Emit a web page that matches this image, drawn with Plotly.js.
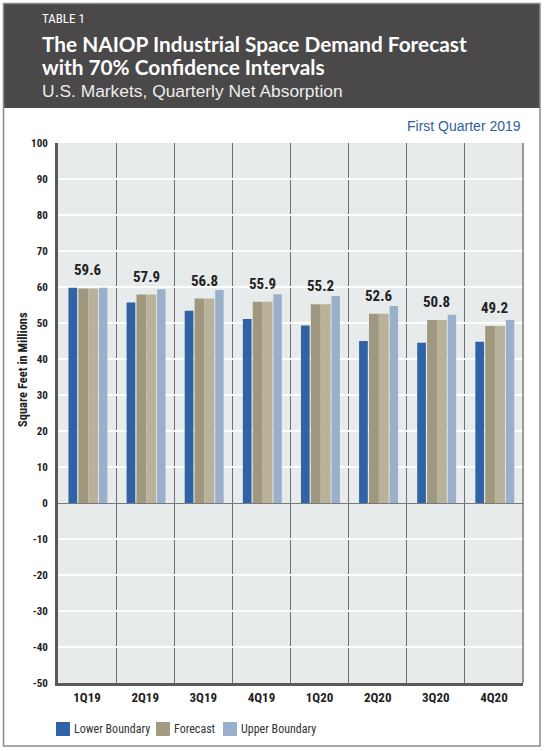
<!DOCTYPE html>
<html>
<head>
<meta charset="utf-8">
<script src="https://cdn.plot.ly/plotly-3.0.1.min.js"></script>
<style>
  html, body { margin: 0; padding: 0; background: #ffffff; }
  #chart { width: 545px; height: 751px; }
</style>
</head>
<body>
<div id="chart"></div>
<script>
// ---- data ----
const quarters = ['1Q19', '2Q19', '3Q19', '4Q19', '1Q20', '2Q20', '3Q20', '4Q20'];
const lowerBoundary = [59.8, 55.7, 53.4, 51.1, 49.3, 45.0, 44.5, 44.8];
const forecast = [59.6, 57.9, 56.8, 55.9, 55.2, 52.6, 50.8, 49.2];
const upperBoundary = [59.8, 59.4, 59.2, 58.0, 57.5, 54.7, 52.3, 50.8];
const seriesNames = ['Lower Boundary', 'Forecast', 'Upper Boundary'];
const yTicks = [-50, -40, -30, -20, -10, 0, 10, 20, 30, 40, 50, 60, 70, 80, 90, 100];
const yTickText = yTicks.map(v => String(v));

// ---- style ----
const W = 545, H = 751;
const M = { l: 58, r: 22, t: 143, b: 68 };
const PW = W - M.l - M.r, PH = H - M.t - M.b;
const px = x => (x - M.l) / PW;
const py = y => (H - M.b - y) / PH;
const NARROW = '"Roboto Condensed", "Liberation Sans Narrow", Roboto, sans-serif';
const colLower = '#2f63a5';
const colFcL = '#a0977f';
const colFcR = '#bab19a';
const colUpper = '#9aafcc';

const traces = [
  { type: 'bar', x: quarters, y: lowerBoundary, name: seriesNames[0],
    marker: { color: colLower }, offset: -0.32, width: 0.15, showlegend: false, hoverinfo: 'x+y+name' },
  { type: 'bar', x: quarters, y: forecast, name: seriesNames[1],
    marker: { color: colFcL }, offset: -0.15, width: 0.17, showlegend: false, hoverinfo: 'x+y+name' },
  { type: 'bar', x: quarters, y: forecast, name: seriesNames[1],
    marker: { color: colFcR }, offset: 0.02, width: 0.17, showlegend: false, hoverinfo: 'skip' },
  { type: 'bar', x: quarters, y: upperBoundary, name: seriesNames[2],
    marker: { color: colUpper }, offset: 0.205, width: 0.145, showlegend: false, hoverinfo: 'x+y+name' }
];

const annotations = [];
// value labels above forecast bars
forecast.forEach((v, i) => {
  annotations.push({
    x: i, y: v, xref: 'x', yref: 'y', xshift: 1, yshift: 18,
    text: v.toFixed(1), showarrow: false, xanchor: 'center', yanchor: 'middle',
    font: { family: NARROW, size: 15, color: '#222222', weight: 'bold' }
  });
});
// header texts
annotations.push(
  { xref: 'paper', yref: 'paper', x: px(40), y: py(18), xanchor: 'left', yanchor: 'middle', showarrow: false,
    text: 'TABLE 1', font: { family: NARROW, size: 13, color: '#ffffff' } },
  { xref: 'paper', yref: 'paper', x: px(40), y: py(43), xanchor: 'left', yanchor: 'middle', showarrow: false,
    text: 'The NAIOP Industrial Space Demand Forecast', font: { family: 'Lato, sans-serif', size: 20.8, color: '#ffffff', weight: 'bold' } },
  { xref: 'paper', yref: 'paper', x: px(40), y: py(66), xanchor: 'left', yanchor: 'middle', showarrow: false,
    text: 'with 70% Confidence Intervals', font: { family: 'Lato, sans-serif', size: 20.8, color: '#ffffff', weight: 'bold' } },
  { xref: 'paper', yref: 'paper', x: px(40), y: py(91), xanchor: 'left', yanchor: 'middle', showarrow: false,
    text: 'U.S. Markets, Quarterly Net Absorption', font: { family: '"Liberation Sans", Arial, sans-serif', size: 17.4, color: '#ececec' } },
  { xref: 'paper', yref: 'paper', x: px(523), y: py(126), xanchor: 'right', yanchor: 'middle', showarrow: false,
    text: 'First Quarter 2019', font: { family: '"Liberation Sans", Arial, sans-serif', size: 14, color: '#2f5f9f' } },
  { xref: 'paper', yref: 'paper', x: px(22), y: py(370), xanchor: 'center', yanchor: 'middle', showarrow: false,
    textangle: -90, text: 'Square Feet in Millions', font: { family: NARROW, size: 12.5, color: '#222222', weight: 'bold' } }
);

// manual legend (names and colours from the series)
const legendItems = [
  { name: seriesNames[0], color: colLower, sx: 56, tx: 72 },
  { name: seriesNames[1], color: '#a39a82', sx: 156, tx: 172 },
  { name: seriesNames[2], color: colUpper, sx: 223, tx: 239 }
];
const shapes = [
  // outer frame
  { type: 'rect', xref: 'paper', yref: 'paper', x0: px(3.5), x1: px(540), y0: py(746), y1: py(3.5),
    line: { color: '#8a8a8a', width: 1.5 }, fillcolor: 'rgba(0,0,0,0)', layer: 'above' },
  // header band
  { type: 'rect', xref: 'paper', yref: 'paper', x0: px(3.5), x1: px(540), y0: py(108), y1: py(3.5),
    line: { width: 0 }, fillcolor: '#4a4849', layer: 'below' },
  // right edge of plot
  { type: 'line', xref: 'paper', yref: 'paper', x0: 1, x1: 1, y0: 0, y1: 1,
    line: { color: '#7a7a7a', width: 1.5 }, layer: 'above' }
];
legendItems.forEach(it => {
  shapes.push({ type: 'rect', xref: 'paper', yref: 'paper', x0: px(it.sx), x1: px(it.sx + 14), y0: py(736), y1: py(722),
    line: { width: 0 }, fillcolor: it.color, layer: 'above' });
  annotations.push({ xref: 'paper', yref: 'paper', x: px(it.tx), y: py(729), xanchor: 'left', yanchor: 'middle', showarrow: false,
    text: it.name, font: { family: NARROW, size: 12, color: '#333333' } });
});

const layout = {
  width: W, height: H,
  margin: M,
  paper_bgcolor: '#ffffff',
  plot_bgcolor: '#e8ebeb',
  barmode: 'overlay',
  showlegend: false,
  xaxis: {
    type: 'category', tickson: 'boundaries', showgrid: true, gridcolor: '#707070', gridwidth: 1,
    ticks: '', showline: true, linecolor: '#5a5a5a', linewidth: 3,
    tickfont: { family: NARROW, size: 13, color: '#222222', weight: 'bold' },
    fixedrange: true
  },
  yaxis: {
    range: [-50, 100], tickvals: yTicks, ticktext: yTickText, showgrid: true, gridcolor: '#ffffff', gridwidth: 1.5,
    zeroline: true, zerolinecolor: '#7a7a7a', zerolinewidth: 1,
    showline: true, linecolor: '#5a5a5a', linewidth: 3,
    ticks: 'outside', ticklen: 5, tickcolor: 'rgba(0,0,0,0)',
    tickfont: { family: NARROW, size: 11, color: '#222222', weight: 'bold' },
    fixedrange: true
  },
  shapes: shapes,
  annotations: annotations
};

Plotly.newPlot('chart', traces, layout, { displayModeBar: false, staticPlot: true });
</script>
</body>
</html>
